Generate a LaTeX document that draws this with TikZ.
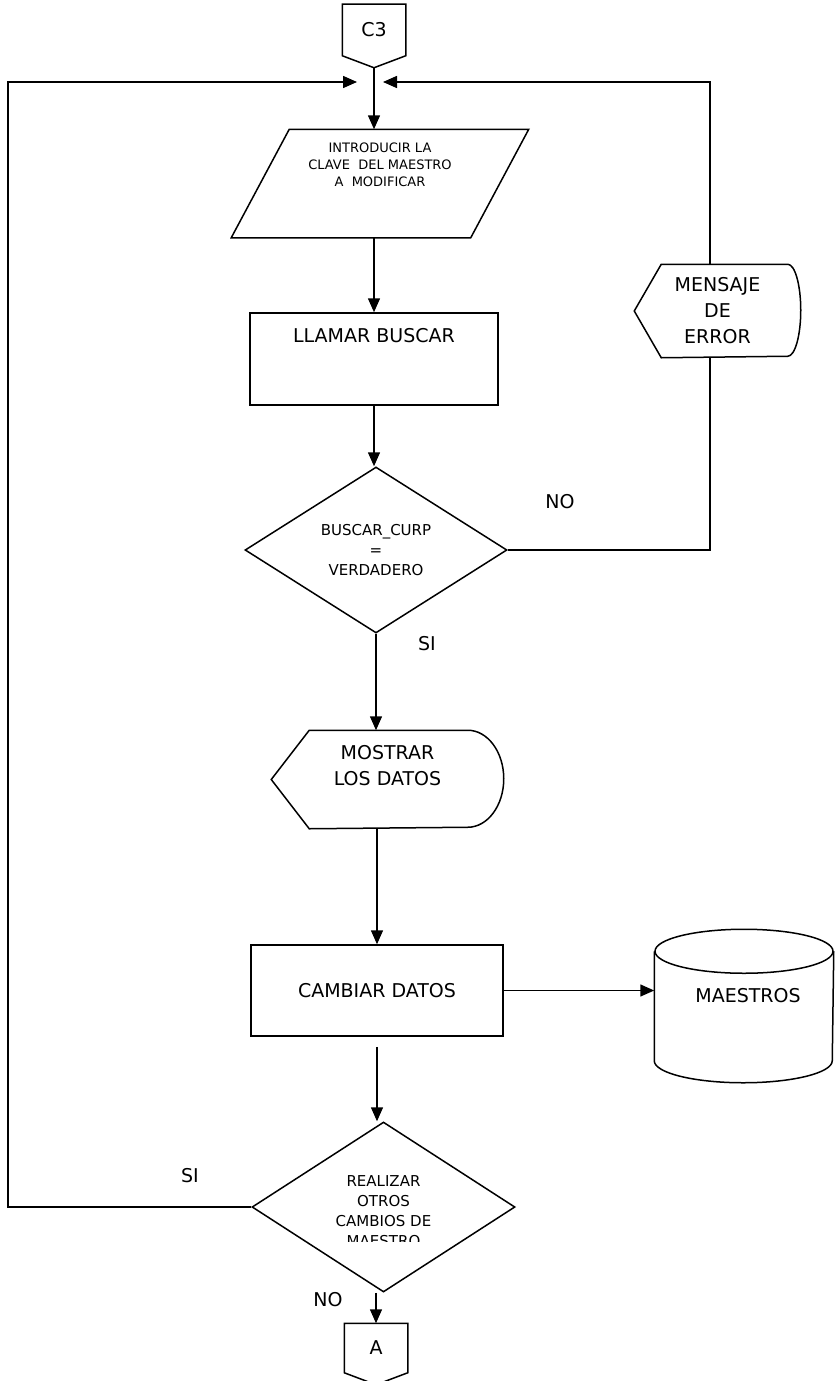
\documentclass[tikz,border=0pt]{standalone}
\usepackage{fontspec}
\setmainfont{DejaVu Sans}
\usepackage{tikz}
\usetikzlibrary{shapes.geometric,arrows.meta,positioning}

\newcommand{\fbig}{\fontsize{19}{26}\selectfont}
\newcommand{\fmid}{\fontsize{15}{20}\selectfont}
\newcommand{\fsmall}{\fontsize{13}{17}\selectfont}

% outlines drawn round plain nodes
\newcommand{\drawoffpage}[1]{%
  \draw (#1.north west) -- (#1.north east) -- (#1.south east)
    -- ([yshift=-12pt]#1.south) coordinate (#1 tip) -- (#1.south west) -- cycle;}
\newcommand{\drawinput}[2]{%
  \draw ([xshift=#2]#1.north west) -- (#1.north east)
    -- ([xshift=-#2]#1.south east) -- (#1.south west) -- cycle;}
\newcommand{\drawdisplay}[4]{%
  \draw ([xshift=#2]#1.north west) -- ([xshift=-#3]#1.north east)
    arc[start angle=90, end angle=-90, x radius=#3, y radius=#4]
    -- ([xshift=#2]#1.south west) -- (#1.west) -- cycle;}
\newcommand{\drawstore}[3]{%
  \draw ([yshift=-#2]#1.north west) -- ([yshift=#2]#1.south west)
    arc[start angle=180, end angle=360, x radius=#3, y radius=#2]
    -- ([yshift=-#2]#1.north east);
  \draw ([yshift=-#2]#1.north) ellipse[x radius=#3, y radius=#2];}

\begin{document}
\begin{tikzpicture}[x=1pt, y=-1pt, line width=1.5pt,
  every node/.style={inner sep=0pt, align=center},
  flow/.style={-{Triangle[length=14pt,width=12pt]}},
  proc/.style={draw, rectangle, font=\fbig},
  decision/.style={draw, diamond, font=\fmid}]
  \useasboundingbox (0,0) rectangle (835,1381);

  % entry connector and the join of both loops
  \node[font=\fbig, minimum width=62pt, minimum height=50pt] (c3) at (374,30) {C3};
  \drawoffpage{c3}
  \coordinate (join left) at (357,82);
  \coordinate (join right) at (383,82);
  \coordinate (corner left) at (8,82);
  \coordinate (corner right) at (710,82);

  \node[minimum width=296pt, minimum height=107pt] (intro) at (380,183.5) {};
  \drawinput{intro}{58pt}
  \node[font=\fsmall, below=13pt of intro.north] (intro txt) {INTRODUCIR LA\\CLAVE\ \ DEL MAESTRO\\A\ \ MODIFICAR};

  \node[proc, minimum width=248pt, minimum height=92pt] (llamar) at (374,359) {};
  \node[font=\fbig, below=15pt of llamar.north] (llamar txt) {LLAMAR BUSCAR};

  \node[decision, minimum width=262pt, minimum height=166pt] (buscar) at (376,550) {BUSCAR\_CURP\\=\\VERDADERO};

  \node[font=\fbig, minimum width=165pt, minimum height=92pt] (error) at (717.5,311) {MENSAJE\\DE\\ERROR};
  \drawdisplay{error}{27pt}{13pt}{46pt}

  \node[minimum width=231pt, minimum height=97pt] (mostrar) at (387.5,779.5) {};
  \drawdisplay{mostrar}{38pt}{36pt}{48.5pt}
  \node[font=\fbig, below=14pt of mostrar.north] (mostrar txt) {MOSTRAR\\LOS DATOS};

  \node[proc, minimum width=252pt, minimum height=91pt] (cambiar) at (377,990.5) {CAMBIAR DATOS};

  \node[minimum width=178pt, minimum height=152pt] (maestros) at (744,1006) {};
  \drawstore{maestros}{22pt}{89pt}
  \node[font=\fbig, below=58pt of maestros.north, xshift=4pt] (maestros txt) {MAESTROS};

  \node[draw, diamond, minimum width=263pt, minimum height=170pt] (otros) at (383.5,1207) {};
  \begin{scope}
    \clip (250,1122) rectangle (520,1241);
    \node[font=\fmid, below=54pt of otros.north] (otros txt) {REALIZAR\\OTROS\\CAMBIOS DE\\MAESTRO};
  \end{scope}

  \node[font=\fbig, minimum width=62pt, minimum height=48pt] (a) at (376,1348) {A};
  \drawoffpage{a}

  % connectors
  \draw[flow] (c3 tip) -- (c3 tip |- intro.north);
  \draw[flow] (intro.south -| llamar.north) -- (llamar.north);
  \draw[flow] (llamar.south) -- (llamar.south |- buscar.north);
  \draw (buscar.east) -| (error.south -| corner right);
  \draw[flow] (error.north -| corner right) -- (corner right) -- (join right);
  \draw[flow] (buscar.south) -- (buscar.south |- mostrar.north);
  \draw[flow] (mostrar.south -| cambiar.north) -- (cambiar.north);
  \draw[flow] (cambiar.east) -- (cambiar.east -| maestros.west);
  \draw[flow, shorten <=10pt] (cambiar.south) -- (cambiar.south |- otros.north);
  \draw[flow] (otros.west) -| (corner left) -- (join left);
  \draw[flow] (a.north |- otros.south) -- (a.north);

  \node[font=\fbig] (no1) at (560,502) {NO};
  \node[font=\fbig] (si1) at (427,644) {SI};
  \node[font=\fbig] (si2) at (190,1176) {SI};
  \node[font=\fbig] (no2) at (328,1300) {NO};
\end{tikzpicture}
\end{document}
